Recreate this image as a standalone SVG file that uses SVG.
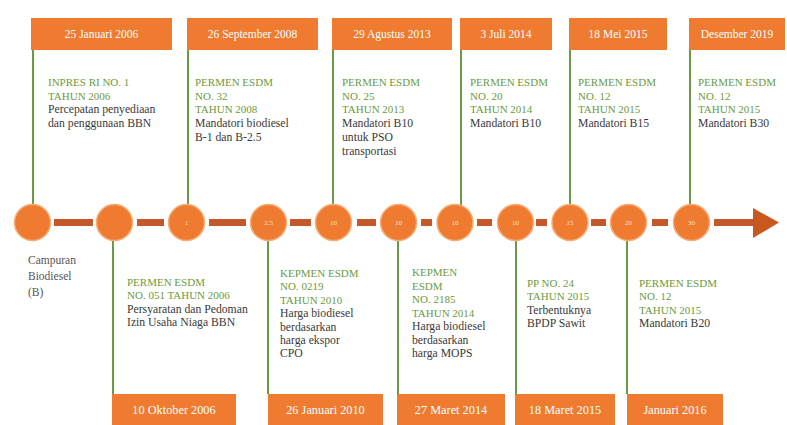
<svg xmlns="http://www.w3.org/2000/svg" width="787" height="425" viewBox="0 0 787 425">
<style>
.box{fill:#ee7b30}
.date{font-family:"Liberation Serif",serif;font-size:11.5px;fill:#ffffff;text-anchor:middle}
.bd{font-size:12.3px}
.txt{font-family:"Liberation Serif",serif;font-size:11.7px;fill:#3a3a3a}
.hd{fill:#6b9a3e;font-size:11px}
.dot{fill:#ee7b30;stroke:#f6ad78;stroke-width:1.5}
.num{font-family:"Liberation Serif",serif;font-size:7px;fill:#fbe0c8;text-anchor:middle}
.vl{stroke:#6a9a48;stroke-width:2;fill:none}
.bar{stroke:#c4582a;stroke-width:7;fill:none}
.lbl{font-family:"Liberation Serif",serif;font-size:11.5px;fill:#555555}
</style>
<rect width="787" height="425" fill="#ffffff"/>
<g id="connectors">
<line class="vl" x1="33" y1="50" x2="33" y2="205"/>
<line class="vl" x1="188" y1="50" x2="188" y2="205"/>
<line class="vl" x1="333" y1="50" x2="333" y2="205"/>
<line class="vl" x1="461" y1="50" x2="461" y2="207"/>
<line class="vl" x1="570" y1="50" x2="570" y2="205"/>
<line class="vl" x1="690" y1="50" x2="690" y2="205"/>
<line class="vl" x1="113" y1="240" x2="113" y2="394"/>
<line class="vl" x1="268" y1="240" x2="268" y2="394"/>
<line class="vl" x1="398" y1="240" x2="398" y2="394"/>
<line class="vl" x1="516" y1="240" x2="516" y2="394"/>
<line class="vl" x1="627" y1="240" x2="627" y2="394"/>
<line class="bar" x1="54" y1="222.5" x2="93" y2="222.5"/>
<line class="bar" x1="137" y1="222.5" x2="164" y2="222.5"/>
<line class="bar" x1="209" y1="222.5" x2="246" y2="222.5"/>
<line class="bar" x1="290" y1="222.5" x2="311" y2="222.5"/>
<line class="bar" x1="357" y1="222.5" x2="376" y2="222.5"/>
<line class="bar" x1="421" y1="222.5" x2="432" y2="222.5"/>
<line class="bar" x1="477" y1="222.5" x2="492" y2="222.5"/>
<line class="bar" x1="536" y1="222.5" x2="547" y2="222.5"/>
<line class="bar" x1="591" y1="222.5" x2="606" y2="222.5"/>
<line class="bar" x1="652" y1="222.5" x2="668" y2="222.5"/>
<line class="bar" x1="714" y1="222.5" x2="756" y2="222.5"/>
<polygon points="753,208 779,222.5 753,238" fill="#c9581f"/>
</g>
<g id="legend">
<text class="lbl" x="28" y="264">Campuran</text>
<text class="lbl" x="28" y="280">Biodiesel</text>
<text class="lbl" x="28" y="296">(B)</text>
</g>
<g id="n1">
<rect class="box" x="31" y="18" width="141" height="32"/>
<text class="date" x="101.5" y="38">25 Januari 2006</text>
<text class="txt" x="48" y="86"><tspan class="hd">INPRES RI NO. 1</tspan><tspan class="hd" x="48" dy="13.7">TAHUN 2006</tspan><tspan x="48" dy="13.7">Percepatan penyediaan</tspan><tspan x="48" dy="13.7">dan penggunaan BBN</tspan></text>
<circle class="dot" cx="32.5" cy="222.5" r="18"/>
</g>
<g id="n2">
<rect class="box" x="112" y="394" width="124" height="31"/>
<text class="date bd" x="174" y="413.5">10 Oktober 2006</text>
<text class="txt" x="127" y="286"><tspan class="hd">PERMEN ESDM</tspan><tspan class="hd" x="127" dy="13.4">NO. 051 TAHUN 2006</tspan><tspan x="127" dy="13.4">Persyaratan dan Pedoman</tspan><tspan x="127" dy="13.4">Izin Usaha Niaga BBN</tspan></text>
<circle class="dot" cx="114.5" cy="222.5" r="18"/>
</g>
<g id="n3">
<rect class="box" x="187" y="18" width="131" height="32"/>
<text class="date" x="252.5" y="38">26 September 2008</text>
<text class="txt" x="195" y="86"><tspan class="hd">PERMEN ESDM</tspan><tspan class="hd" x="195" dy="13.7">NO. 32</tspan><tspan class="hd" x="195" dy="13.7">TAHUN 2008</tspan><tspan x="195" dy="13.7">Mandatori biodiesel</tspan><tspan x="195" dy="13.7">B-1 dan B-2.5</tspan></text>
<circle class="dot" cx="186.5" cy="222.5" r="18"/>
<text class="num" x="186.5" y="225">1</text>
</g>
<g id="n4">
<rect class="box" x="268" y="394" width="115" height="31"/>
<text class="date bd" x="325.5" y="413.5">26 Januari 2010</text>
<text class="txt" x="280" y="277"><tspan class="hd">KEPMEN ESDM</tspan><tspan class="hd" x="280" dy="13.4">NO. 0219</tspan><tspan class="hd" x="280" dy="13.4">TAHUN 2010</tspan><tspan x="280" dy="13.4">Harga biodiesel</tspan><tspan x="280" dy="13.4">berdasarkan</tspan><tspan x="280" dy="13.4">harga ekspor</tspan><tspan x="280" dy="13.4">CPO</tspan></text>
<circle class="dot" cx="268.5" cy="222.5" r="18"/>
<text class="num" x="268.5" y="225">2.5</text>
</g>
<g id="n5">
<rect class="box" x="332" y="18" width="120" height="32"/>
<text class="date" x="392" y="38">29 Agustus 2013</text>
<text class="txt" x="342" y="86"><tspan class="hd">PERMEN ESDM</tspan><tspan class="hd" x="342" dy="13.7">NO. 25</tspan><tspan class="hd" x="342" dy="13.7">TAHUN 2013</tspan><tspan x="342" dy="13.7">Mandatori B10</tspan><tspan x="342" dy="13.7">untuk PSO</tspan><tspan x="342" dy="13.7">transportasi</tspan></text>
<circle class="dot" cx="333.5" cy="222.5" r="18"/>
<text class="num" x="333.5" y="225">10</text>
</g>
<g id="n6">
<rect class="box" x="397" y="394" width="108" height="31"/>
<text class="date bd" x="451" y="413.5">27 Maret 2014</text>
<text class="txt" x="412" y="276"><tspan class="hd">KEPMEN</tspan><tspan class="hd" x="412" dy="13.5">ESDM</tspan><tspan class="hd" x="412" dy="13.5">NO. 2185</tspan><tspan class="hd" x="412" dy="13.5">TAHUN 2014</tspan><tspan x="412" dy="13.5">Harga biodiesel</tspan><tspan x="412" dy="13.5">berdasarkan</tspan><tspan x="412" dy="13.5">harga MOPS</tspan></text>
<circle class="dot" cx="398.5" cy="222.5" r="18"/>
<text class="num" x="398.5" y="225">10</text>
</g>
<g id="n7">
<rect class="box" x="460" y="18" width="92" height="32"/>
<text class="date" x="506" y="38">3 Juli 2014</text>
<text class="txt" x="470" y="86"><tspan class="hd">PERMEN ESDM</tspan><tspan class="hd" x="470" dy="13.7">NO. 20</tspan><tspan class="hd" x="470" dy="13.7">TAHUN 2014</tspan><tspan x="470" dy="13.7">Mandatori B10</tspan></text>
<circle class="dot" cx="455" cy="222.5" r="18"/>
<text class="num" x="455" y="225">10</text>
</g>
<g id="n8">
<rect class="box" x="515" y="394" width="100" height="31"/>
<text class="date bd" x="565" y="413.5">18 Maret 2015</text>
<text class="txt" x="527" y="287"><tspan class="hd">PP NO. 24</tspan><tspan class="hd" x="527" dy="13.4">TAHUN 2015</tspan><tspan x="527" dy="13.4">Terbentuknya</tspan><tspan x="527" dy="13.4">BPDP Sawit</tspan></text>
<circle class="dot" cx="515.5" cy="222.5" r="18"/>
<text class="num" x="515.5" y="225">10</text>
</g>
<g id="n9">
<rect class="box" x="569" y="18" width="98" height="32"/>
<text class="date" x="618" y="38">18 Mei 2015</text>
<text class="txt" x="578" y="86"><tspan class="hd">PERMEN ESDM</tspan><tspan class="hd" x="578" dy="13.7">NO. 12</tspan><tspan class="hd" x="578" dy="13.7">TAHUN 2015</tspan><tspan x="578" dy="13.7">Mandatori B15</tspan></text>
<circle class="dot" cx="570" cy="222.5" r="18"/>
<text class="num" x="570" y="225">15</text>
</g>
<g id="n10">
<rect class="box" x="627" y="394" width="96" height="31"/>
<text class="date bd" x="675" y="413.5">Januari 2016</text>
<text class="txt" x="639" y="287"><tspan class="hd">PERMEN ESDM</tspan><tspan class="hd" x="639" dy="13.3">NO. 12</tspan><tspan class="hd" x="639" dy="13.3">TAHUN 2015</tspan><tspan x="639" dy="13.3">Mandatori B20</tspan></text>
<circle class="dot" cx="628.5" cy="222.5" r="18"/>
<text class="num" x="628.5" y="225">20</text>
</g>
<g id="n11">
<rect class="box" x="689" y="18" width="96" height="32"/>
<text class="date" x="737" y="38">Desember 2019</text>
<text class="txt" x="698" y="86"><tspan class="hd">PERMEN ESDM</tspan><tspan class="hd" x="698" dy="13.7">NO. 12</tspan><tspan class="hd" x="698" dy="13.7">TAHUN 2015</tspan><tspan x="698" dy="13.7">Mandatori B30</tspan></text>
<circle class="dot" cx="691.5" cy="222.5" r="18"/>
<text class="num" x="691.5" y="225">30</text>
</g>
</svg>
